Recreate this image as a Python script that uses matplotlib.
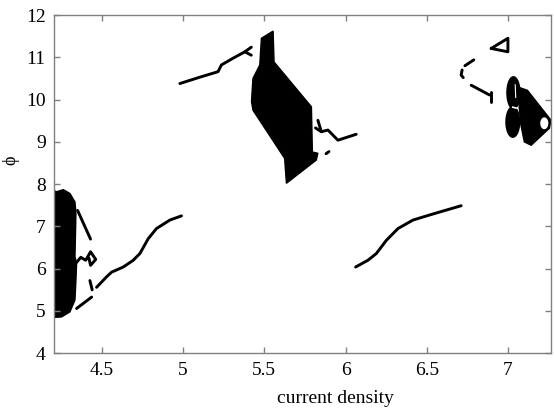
import matplotlib
matplotlib.use('Agg')
import matplotlib.pyplot as plt
import numpy as np

# black (chaotic) regions
left_x = [4.205, 4.221, 4.262, 4.303, 4.334, 4.340, 4.334, 4.344, 4.340, 4.334, 4.303, 4.252, 4.211, 4.205]
left_y = [7.85, 7.82, 7.87, 7.78, 7.58, 7.31, 6.28, 6.13, 5.73, 5.26, 4.98, 4.86, 4.85, 4.85]

mid_x = [5.482, 5.554, 5.560, 5.790, 5.796, 5.830, 5.820, 5.636, 5.625, 5.430, 5.421, 5.430, 5.472]
mid_y = [11.45, 11.62, 10.89, 9.83, 8.76, 8.73, 8.57, 8.02, 8.61, 9.75, 9.95, 10.50, 10.82]

tri_x = [7.060, 7.120, 7.266, 7.255, 7.143, 7.101, 7.080, 7.070]
tri_y = [10.30, 10.22, 9.51, 9.32, 8.92, 9.00, 9.40, 9.80]

# ovals near j = 7 : centre x, centre y, half width, half height
oval_cx = [7.034, 7.030]
oval_cy = [10.16, 9.47]
oval_rx = [0.040, 0.042]
oval_ry = [0.38, 0.36]

# periodic branches (lines)
curves = [
    ([4.467, 4.529, 4.560, 4.631, 4.693, 4.734, 4.785, 4.836, 4.918, 4.990],
     [5.56, 5.81, 5.92, 6.04, 6.20, 6.36, 6.71, 6.95, 7.15, 7.25]),
    ([6.062, 6.138, 6.190, 6.251, 6.323, 6.415, 6.517, 6.712],
     [6.04, 6.20, 6.36, 6.67, 6.95, 7.15, 7.27, 7.49]),
    ([4.980, 5.103, 5.215, 5.236, 5.308, 5.380, 5.420],
     [10.38, 10.53, 10.66, 10.82, 10.98, 11.13, 11.24]),
    ([5.380, 5.420], [11.13, 11.05]),
    ([4.350, 4.430], [7.38, 6.70]),
    ([4.344, 4.370, 4.400, 4.430, 4.462, 4.430, 4.420],
     [6.15, 6.27, 6.20, 6.40, 6.22, 6.08, 6.25]),
    ([4.426, 4.440], [5.72, 5.50]),
    ([4.344, 4.437], [5.06, 5.33]),
    ([5.830, 5.851, 5.892, 5.953, 6.066], [9.51, 9.24, 9.28, 9.04, 9.18]),
    ([5.815, 5.851], [9.33, 9.24]),
    ([5.880, 5.898], [8.72, 8.77]),
    ([6.897, 7.000, 7.000, 6.897], [11.21, 11.45, 11.13, 11.21]),
    ([6.790, 6.735], [10.94, 10.80]),
    ([6.718, 6.712, 6.725], [10.70, 10.58, 10.52]),
    ([6.774, 6.886], [10.34, 10.11]),
    ([6.897, 6.897], [10.18, 9.95]),
]

fig = plt.figure(figsize=(5.54, 4.13), dpi=100)
ax = fig.add_axes([0.0975, 0.1446, 0.897, 0.819])

ax.fill(left_x, left_y, color='black', lw=1)
ax.fill(mid_x, mid_y, color='black', lw=1)
ax.fill(tri_x, tri_y, color='black', lw=1)
t = np.linspace(0, 2 * np.pi, 60)
for cx, cy, rx, ry in zip(oval_cx, oval_cy, oval_rx, oval_ry):
    ax.fill(cx + rx * np.cos(t), cy + ry * np.sin(t), color='black', lw=1)
# holes inside the right region
ax.fill(7.224 + 0.025 * np.cos(t), 9.44 + 0.14 * np.sin(t), color='white', lw=0)
ax.plot([7.03, 7.05], [9.82, 9.80], color='white', lw=1.2)
ax.plot([7.045, 7.048], [10.35, 10.05], color='white', lw=0.8)

for xs, ys in curves:
    ax.plot(xs, ys, color='black', lw=2.1, solid_capstyle='round', solid_joinstyle='round')

ax.set_xlim(4.205, 7.265)
ax.set_ylim(4, 12)
ax.set_xticks([4.5, 5, 5.5, 6, 6.5, 7])
ax.set_xticklabels(['4.5', '5', '5.5', '6', '6.5', '7'])
ax.set_yticks(range(4, 13))

for s in ax.spines.values():
    s.set_color('#808080')
    s.set_linewidth(1.0)
ax.tick_params(direction='in', length=4, width=1, color='#808080',
               top=True, right=True, labelsize=14, pad=6)
for lab in ax.get_xticklabels() + ax.get_yticklabels():
    lab.set_family('Liberation Serif')

ax.set_xlabel('current density', family='Liberation Serif', fontsize=14)
ax.set_ylabel('ϕ', family=['Liberation Serif', 'DejaVu Serif'], fontsize=13)
ax.xaxis.set_label_coords(0.567, -0.11)
ax.yaxis.set_label_coords(-0.07, 0.571)

fig.savefig('out.png', dpi=100)
